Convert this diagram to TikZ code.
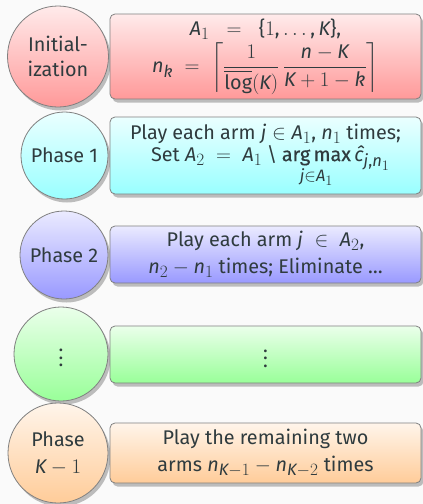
\documentclass[tikz,border=0pt]{standalone}
\usepackage{amsmath}
\usepackage{fontspec}
\setmainfont{Fira Sans}
\usepackage[italic,noplusnominus]{mathastext}
\usetikzlibrary{shadows}
\definecolor{txt}{HTML}{2F3B3E}
\definecolor{bg}{HTML}{FAFAFA}
\definecolor{edge}{HTML}{808080}
\newcommand{\myvdots}{\vbox{\baselineskip=7.5pt\lineskiplimit=0pt\hbox{.}\hbox{.}\hbox{.}}}
\newcommand{\chat}{\mbox{\itshape ĉ}}
\newcommand{\myargmax}{\mathop{\text{\addfontfeature{FakeBold=0.5}arg\,max}}}
\begin{document}
\begin{tikzpicture}[x=1pt,y=-1pt,
  every node/.style={font=\fontsize{19.8}{25}\selectfont, text=txt},
  shad/.style={drop shadow={shadow xshift=2.5pt,shadow yshift=-3.5pt,fill=black!50,opacity=.5}},
  ph/.style={circle, draw=edge, line width=0.8pt, inner sep=0pt, align=center, shad},
  bx/.style={rectangle, rounded corners=5pt, draw=edge, line width=0.8pt, minimum width=311pt, inner sep=0pt, align=center, shad},
  cred/.style={top color=red!8, bottom color=red!40},
  ccyan/.style={top color=cyan!8, bottom color=cyan!40},
  cblue/.style={top color=blue!8, bottom color=blue!40},
  cgreen/.style={top color=green!8, bottom color=green!40},
  corange/.style={top color=orange!8, bottom color=orange!40}]
\fill[bg] (0,0) rectangle (423,504);
\useasboundingbox (0,0) rectangle (423,504);
% row 1
\node[ph,cred,minimum size=101pt] (c1) at (58,56.5) {Initial-\\ization};
\node[bx,cred,minimum height=85pt] (b1) at (265.5,56.5)
  {$A_1\;\;=\;\;\{1,\ldots,K\}$,\\[2pt]
   $n_k\;=\;\biggl\lceil \dfrac{1}{\overline{\log}(K)}\,\dfrac{n-K}{K+1-k}\biggr\rceil$};
% row 2
\node[ph,ccyan,minimum size=87pt] (c2) at (64.5,155.5) {Phase 1};
\node[bx,ccyan,minimum height=77pt] (b2) at (265.5,155.5)
  {Play each arm $j\in A_1$, $n_1$ times;\\[-3pt]
   \hspace*{10pt}Set $A_2\;=\;A_1\setminus \myargmax\limits_{j\in A_1}\chat_{j,n_1}$};
% row 3
\node[ph,cblue,minimum size=88pt] (c3) at (64,255) {Phase 2};
\node[bx,cblue,minimum height=57pt] (b3) at (265.5,254.5)
  {Play each arm $j\;\in\;A_2$,\\[2pt] $n_2-n_1$ times; Eliminate \ldots};
% row 4
\node[ph,cgreen,minimum size=94pt] (c4) at (61,354) {};
\node[yshift=-4pt] (d4) at (c4.center) {\myvdots};
\node[bx,cgreen,minimum height=57pt] (b4) at (265.5,354.5) {};
\node[yshift=-4pt] (e4) at (b4.center) {\myvdots};
% row 5
\node[ph,corange,minimum size=100pt] (c5) at (58,453) {Phase\\[2pt]$K-1$};
\node[bx,corange,minimum height=60pt] (b5) at (265.5,453)
  {Play the remaining two\\[2pt] arms $n_{K-1}-n_{K-2}$ times};
\end{tikzpicture}
\end{document}
